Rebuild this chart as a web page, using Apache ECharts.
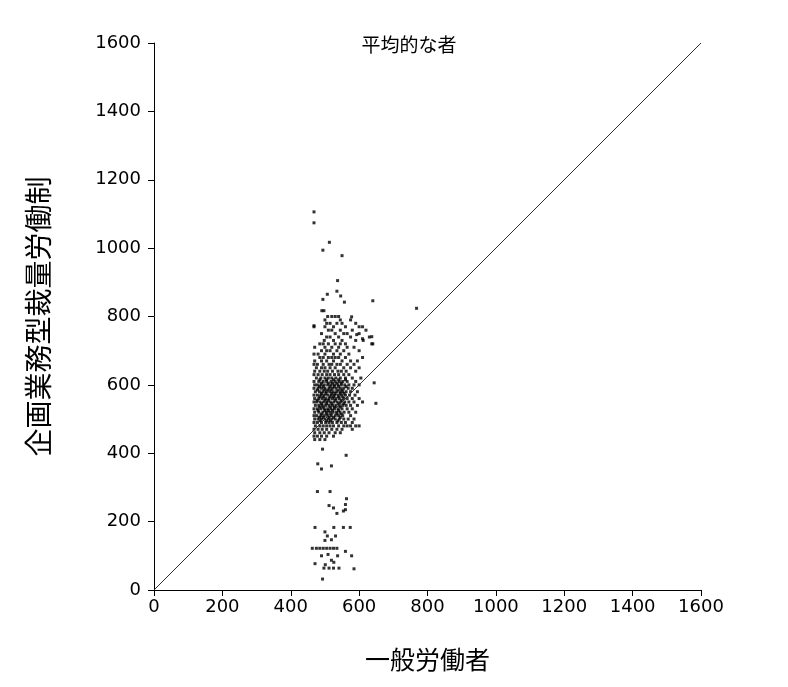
<!DOCTYPE html>
<html>
<head>
<meta charset="utf-8">
<script src="https://cdn.jsdelivr.net/npm/echarts@6/dist/echarts.min.js"></script>
<style>
  html, body { margin: 0; padding: 0; background: #fff; }
  #container { width: 788px; height: 687px; }
</style>
</head>
<body>
<div id="container"></div>
<script>
// axis ticks
const xTicks = [0, 200, 400, 600, 800, 1000, 1200, 1400, 1600];
const yTicks = [0, 200, 400, 600, 800, 1000, 1200, 1400, 1600];

// reference line y = x
const diagonal = [[0, 0], [1600, 1600]];

// sparse points (general worker, discretionary worker)
const outliers = [
    [468, 1106], [468, 1074], [513, 1017], [494, 994], [550, 978],
    [537, 905], [507, 865], [535, 874], [546, 860], [557, 842], [494, 850],
    [640, 846], [768, 824], [491, 817], [497, 817], [468, 773],
    [593, 747], [637, 741], [637, 720], [610, 735], [578, 799],
    [644, 606], [649, 546], [562, 394], [493, 412], [479, 369],
    [490, 354], [519, 363], [478, 288], [515, 288],
    [563, 267], [560, 250], [512, 247], [525, 240], [535, 224], [554, 231], [560, 235],
    [471, 183], [526, 183], [554, 183], [574, 183], [500, 170], [507, 158],
    [500, 145], [519, 147], [531, 158],
    [463, 122], [475, 122], [485, 122], [495, 122], [505, 122], [515, 122], [525, 122], [535, 122],
    [490, 100], [509, 104], [519, 87], [537, 100], [578, 100], [560, 113],
    [471, 77], [501, 74], [497, 64], [512, 64], [526, 81], [541, 64], [525, 64], [585, 62],
    [493, 32]
];

// dense cluster, listed row by row: [y, x values...]
const clusterRows = [
    [800, 508, 520, 530, 540],
    [790, 500, 545, 575],
    [780, 505, 515, 535, 550, 590],
    [770, 468, 500, 525, 560, 600, 610],
    [760, 510, 520, 545, 580, 620],
    [750, 490, 530, 555, 565, 600],
    [740, 505, 515, 540, 575, 630],
    [730, 498, 525, 550, 590, 612],
    [720, 485, 495, 510, 530, 545, 560, 640],
    [710, 470, 500, 520, 540, 565, 585],
    [700, 490, 505, 515, 535, 555, 600],
    [690, 468, 480, 500, 525, 545, 570],
    [680, 485, 495, 510, 520, 530, 540, 560, 610],
    [670, 470, 490, 505, 525, 550, 575, 595],
    [660, 468, 478, 495, 512, 520, 535, 545, 565, 585],
    [650, 475, 490, 500, 515, 530, 555, 575, 600],
    [640, 470, 485, 498, 508, 522, 538, 548, 562, 590],
    [630, 468, 480, 492, 505, 515, 528, 540, 555, 570],
    [620, 475, 488, 500, 510, 520, 532, 545, 560, 580, 605],
    [615, 485, 505, 525, 540, 560],
    [610, 468, 482, 495, 505, 518, 530, 542, 552, 565, 590],
    [605, 490, 510, 522, 535, 548],
    [600, 470, 478, 488, 498, 508, 518, 528, 538, 548, 558, 570, 585, 600],
    [595, 484, 495, 515, 527, 540, 562],
    [590, 468, 480, 490, 500, 512, 522, 532, 545, 555, 568, 580],
    [585, 478, 498, 508, 518, 538, 550],
    [580, 472, 484, 494, 504, 514, 524, 534, 544, 552, 562, 575, 595],
    [575, 490, 503, 520, 530, 545, 556],
    [570, 468, 478, 488, 498, 508, 518, 528, 538, 548, 560, 572, 588],
    [565, 485, 495, 515, 525, 540, 552],
    [560, 470, 482, 492, 502, 512, 522, 532, 542, 555, 565, 580, 600],
    [555, 478, 500, 510, 530, 548],
    [550, 468, 476, 486, 496, 506, 516, 526, 536, 546, 558, 570, 585, 610],
    [545, 490, 505, 520, 540, 555],
    [540, 472, 482, 492, 502, 512, 522, 532, 542, 552, 562, 575, 595],
    [535, 485, 495, 515, 528, 545],
    [530, 468, 478, 488, 498, 508, 518, 528, 538, 550, 565, 580],
    [525, 480, 500, 510, 522, 540],
    [520, 470, 482, 494, 504, 514, 524, 534, 544, 556, 570, 590],
    [515, 490, 505, 518, 535, 548],
    [510, 468, 476, 488, 498, 508, 518, 530, 540, 552, 575],
    [505, 484, 495, 512, 525, 545],
    [500, 470, 480, 490, 500, 510, 520, 530, 542, 555, 568, 585],
    [495, 486, 505, 516, 538],
    [490, 468, 478, 490, 502, 512, 522, 535, 548, 560, 580],
    [480, 472, 485, 495, 505, 515, 525, 540, 555, 565, 575, 590, 600],
    [470, 468, 480, 492, 505, 520, 535, 550, 580],
    [460, 470, 485, 498, 512, 530, 545],
    [450, 468, 478, 490, 505, 525],
    [440, 470, 485, 500]
];

(function () {
    // flatten rows into [x, y] pairs
    let points = outliers.slice();
    clusterRows.forEach((row) => {
        let y = row[0];
        row.slice(1).forEach((x) => points.push([x, y]));
    });

    const font = '"DejaVu Sans", sans-serif';
    const jpFont = '"Noto Sans CJK JP", sans-serif';

    const axisCommon = {
        type: 'value',
        min: 0,
        max: 1600,
        interval: 200,
        axisLine: { show: true, lineStyle: { color: '#000', width: 1 } },
        axisTick: { show: true, inside: false, length: 6, lineStyle: { color: '#000', width: 1 } },
        axisLabel: { color: '#000', fontSize: 18, fontFamily: font, formatter: (v) => String(v) },
        splitLine: { show: false }
    };

    var dom = document.getElementById('container');
    var myChart = echarts.init(dom, null, { renderer: 'canvas' });

    myChart.setOption({
        animation: false,
        backgroundColor: '#fff',
        title: {
            text: '平均的な者',
            left: 404,
            top: 30,
            textAlign: 'center',
            textStyle: { color: '#000', fontSize: 19, fontWeight: 'normal', fontFamily: jpFont }
        },
        grid: { left: 154, right: 87, top: 43, bottom: 97 },
        xAxis: Object.assign({}, axisCommon, {
            name: '一般労働者',
            nameLocation: 'middle',
            nameGap: 57,
            nameTextStyle: { color: '#000', fontSize: 25, fontFamily: jpFont },
            axisLabel: Object.assign({}, axisCommon.axisLabel, { margin: 8 }),
            customValues: xTicks
        }),
        yAxis: Object.assign({}, axisCommon, {
            name: '企画業務型裁量労働制',
            nameLocation: 'middle',
            nameRotate: 90,
            nameGap: 102,
            nameTextStyle: { color: '#000', fontSize: 28, fontFamily: jpFont },
            axisLabel: Object.assign({}, axisCommon.axisLabel, { margin: 13 }),
            customValues: yTicks
        }),
        series: [
            {
                name: 'diagonal',
                type: 'line',
                data: diagonal,
                symbol: 'none',
                silent: true,
                lineStyle: { color: '#333', width: 1 }
            },
            {
                name: 'points',
                type: 'scatter',
                data: points,
                symbol: 'rect',
                symbolSize: 3,
                itemStyle: { color: '#000' }
            }
        ]
    });
})();
</script>
</body>
</html>
